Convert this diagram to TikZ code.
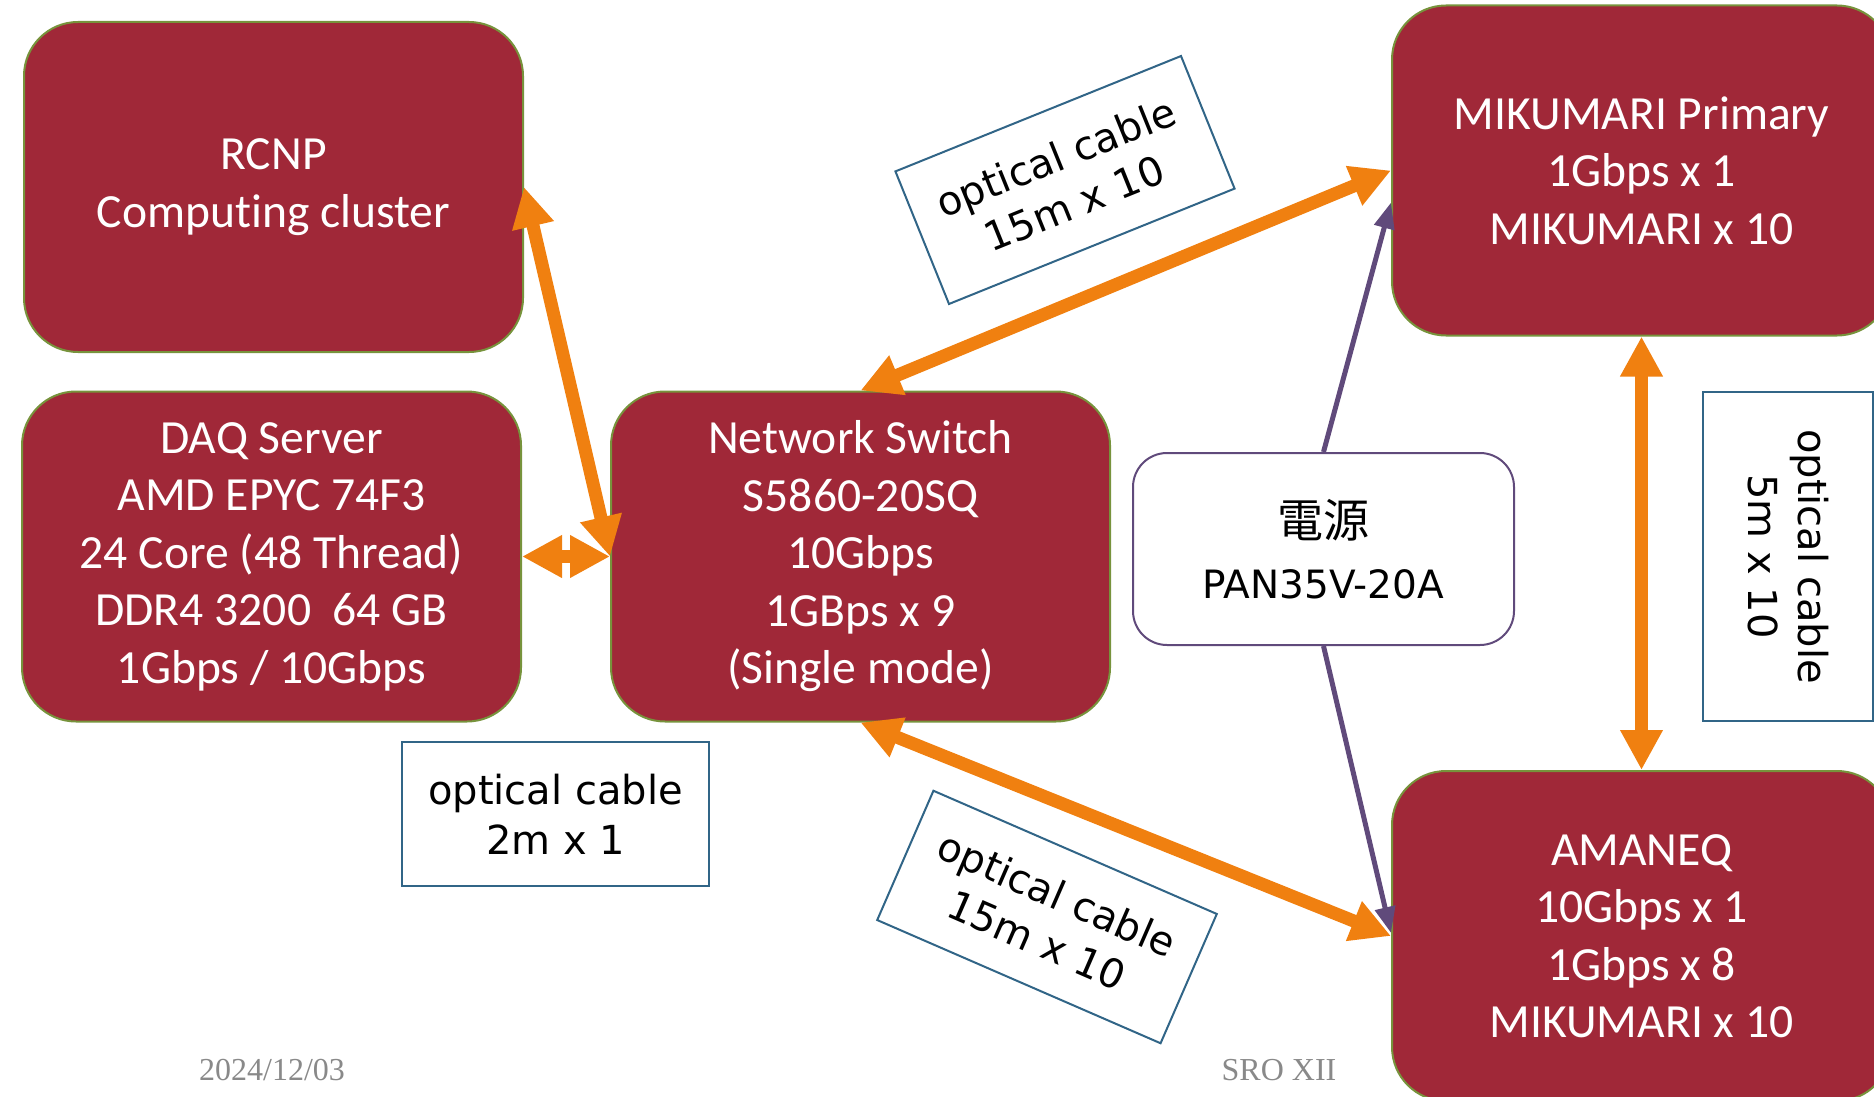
\documentclass[tikz,border=0pt]{standalone}
\usepackage{fontspec}
\setmainfont{Carlito}[Ligatures={NoCommon,NoContextual}]
\newfontfamily\lblfont{DejaVu Sans}
\newfontfamily\cjkfont{Noto Sans CJK JP}
\newfontfamily\footfont{Liberation Serif}
\usetikzlibrary{arrows.meta}
\definecolor{boxred}{RGB}{160,40,56}
\definecolor{boxolive}{RGB}{119,147,60}
\definecolor{arrorange}{RGB}{240,128,16}
\definecolor{pwpurple}{RGB}{96,74,123}
\definecolor{lblblue}{RGB}{49,101,135}
\definecolor{footgray}{RGB}{137,137,137}
\begin{document}
\begin{tikzpicture}[x=0.5pt,y=-0.5pt,
  redbox/.style={draw=boxolive, line width=1pt, fill=boxred, rounded corners=27pt,
    text=white, align=center, font=\fontsize{23.8}{28.75}\selectfont, inner sep=0pt,
    minimum width=249.5pt, minimum height=165pt},
  lblbox/.style={draw=lblblue, line width=1pt, fill=white, align=center,
    font=\lblfont\fontsize{20}{25}\selectfont, inner sep=0pt},
  pwbox/.style={draw=pwpurple, line width=1pt, fill=white, rounded corners=17pt,
    align=center, inner sep=0pt, minimum width=190.5pt, minimum height=96pt,
    font=\lblfont\fontsize{19.5}{30.6}\selectfont},
  optarrow/.style={draw=arrorange, line width=6.5pt,
    {Triangle[length=20pt,width=20pt]}-{Triangle[length=20pt,width=20pt]}},
  pwarrow/.style={draw=pwpurple, line width=2.5pt, -{Triangle[length=13pt,width=10pt]}},
  foot/.style={text=footgray, font=\footfont\fontsize{16}{19}\selectfont}
]
\useasboundingbox (0,0) rectangle (1874,1097);

\node[redbox] (rcnp) at (273.5,187) {RCNP\\Comput\kern0pt ing cluster};
\node[redbox] (daq) at (271.5,556.5) {DAQ Server\\AMD EPYC 74F3\\24 Core (48 Thread)\\DDR4 3200\ \ 64 GB\\1Gbps / 10Gbps};
\node[redbox] (sw) at (860.5,556.5) {Network Switch\\S5860-20SQ\\10Gbps\\1GBps x 9\\(Single mode)};
\node[redbox] (mik) at (1641.5,170.5) {MIKUMARI Primary\\1Gbps x 1\\MIKUMARI x 10};
\node[redbox] (ama) at (1641.5,936) {AMANEQ\\10Gbps x 1\\1Gbps x 8\\MIKUMARI x 10};
\node[pwbox] (pw) at (1323.5,549) {{\cjkfont\fontsize{23}{30.6}\selectfont 電源}\\PAN35V-20A};

\node[lblbox, rotate=22, minimum width=154pt, minimum height=71.5pt] (l1) at (1065,180) {optical cable\\15m x 10};
\node[lblbox, rotate=-23.5, minimum width=154.5pt, minimum height=70.5pt] (l2) at (1047,917) {optical cable\\15m x 10};
\node[lblbox, minimum width=153.5pt, minimum height=72pt] (l3) at (555.5,814) {optical cable\\2m x 1};
\node[lblbox, rotate=-90, minimum width=164.5pt, minimum height=85pt] (l4) at (1788,556.5) {optical cable\\5m x 10};

\draw[optarrow] (rcnp.east) -- (sw.west);
\draw[optarrow] (daq.east) -- (sw.west);
\draw[optarrow] (sw.north) -- (mik.west);
\draw[optarrow] (sw.south) -- (ama.west);
\draw[optarrow] (mik.south) -- (ama.north);
\draw[pwarrow] (pw.north) -- ([yshift=-16pt]mik.west);
\draw[pwarrow] (pw.south) -- ([yshift=1.5pt]ama.west);

\node[foot] (date) at (272,1070) {2024/12/03};
\node[foot] (sro) at (1279,1070) {SRO XII};
\end{tikzpicture}
\end{document}
